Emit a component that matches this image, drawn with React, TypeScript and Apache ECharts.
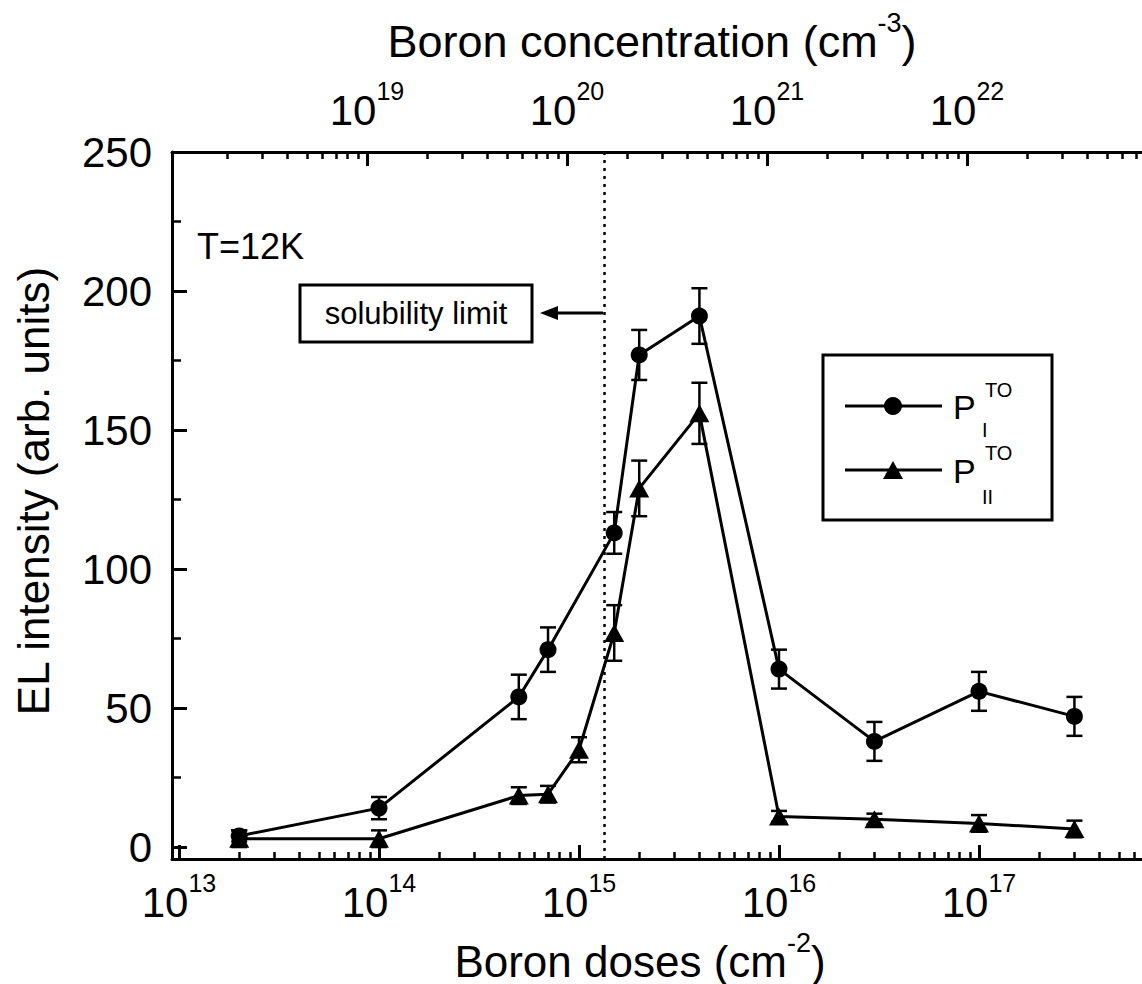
import React, { useEffect, useRef } from "react";
import * as echarts from "echarts";

const FONT = "'Liberation Sans', Arial, Helvetica, sans-serif";

// P_I^TO (circles)
const dosesI = [2e13, 1e14, 5e14, 7e14, 1.5e15, 2e15, 4e15, 1e16, 3e16, 1e17, 3e17];
const intensityI = [4, 14, 54, 71, 113, 177, 191, 64, 38, 56, 47];
const errorI = [2, 4, 8, 8, 7.5, 9, 10, 7, 7, 7, 7];

// P_II^TO (triangles)
const dosesII = [2e13, 1e14, 5e14, 7e14, 1e15, 1.5e15, 2e15, 4e15, 1e16, 3e16, 1e17, 3e17];
const intensityII = [3, 3, 18.5, 19, 35, 77, 129, 156, 11, 10, 8.5, 6.5];
const errorII = [3, 3, 3, 3, 4.5, 10, 10, 11, 2, 2, 3, 3];

const solubilityDose = 1.33e15;

const yTickValues = [0, 50, 100, 150, 200, 250];
const yMinorValues = [25, 75, 125, 175, 225];
const doseMajor = [1e13, 1e14, 1e15, 1e16, 1e17];
const concMajor = [1e19, 1e20, 1e21, 1e22];

const doseMinor: number[] = [];
for (let e = 12; e <= 17; e++) for (let k = 2; k <= 9; k++) doseMinor.push(k * Math.pow(10, e));
const concMinor: number[] = [];
for (let e = 17; e <= 22; e++) for (let k = 2; k <= 9; k++) concMinor.push(k * Math.pow(10, e));

const DOSE_MIN = Math.pow(10, 12.965);
const DOSE_MAX = Math.pow(10, 17.815);
const CONC_OFFSET = 5.06;
const CONC_MIN = Math.pow(10, 12.965 + CONC_OFFSET);
const CONC_MAX = Math.pow(10, 17.815 + CONC_OFFSET);

const powLabel = (v: number) => `{b|10}{s|${Math.round(Math.log10(v))}}`;
const powRich = {
  b: { fontSize: 42, lineHeight: 64, fontFamily: FONT, color: "#000" },
  s: { fontSize: 25, lineHeight: 25, fontFamily: FONT, color: "#000", verticalAlign: "top" },
};

function errorSeries(xs: number[], ys: number[], es: number[]) {
  return {
    type: "custom",
    xAxisIndex: 0,
    yAxisIndex: 0,
    silent: true,
    z: 2,
    encode: { x: 0, y: [1, 2] },
    data: xs.map((x, i) => [x, ys[i] - es[i], ys[i] + es[i]]),
    renderItem: (params: any, api: any) => {
      const x = api.value(0);
      const lo = api.value(1);
      const hi = api.value(2);
      const p1 = api.coord([x, hi]);
      const p2 = api.coord([x, lo]);
      const w = 8;
      const st = { stroke: "#000", lineWidth: 2.5 };
      return {
        type: "group",
        children: [
          { type: "line", shape: { x1: p1[0], y1: p1[1], x2: p2[0], y2: p2[1] }, style: st },
          { type: "line", shape: { x1: p1[0] - w, y1: p1[1], x2: p1[0] + w, y2: p1[1] }, style: st },
          { type: "line", shape: { x1: p2[0] - w, y1: p2[1], x2: p2[0] + w, y2: p2[1] }, style: st },
        ],
      };
    },
  };
}

const axisLineStyle = { color: "#000", width: 3 };

export default function App() {
  const ref = useRef<HTMLDivElement>(null);
  useEffect(() => {
    if (!ref.current) return;
    const chart = echarts.init(ref.current, undefined, { renderer: "svg" });
    const option: any = {
      animation: false,
      backgroundColor: "#fff",
      textStyle: { fontFamily: FONT },
      grid: { left: 172, top: 152, right: 0, bottom: 125, containLabel: false },
      xAxis: [
        {
          type: "log",
          position: "bottom",
          min: DOSE_MIN,
          max: DOSE_MAX,
          axisLine: { show: true, onZero: false, lineStyle: axisLineStyle },
          axisTick: { show: true, inside: true, length: 14, customValues: doseMajor, lineStyle: { color: "#000", width: 3 } },
          axisLabel: { show: true, customValues: doseMajor, formatter: powLabel, rich: powRich, margin: 11, color: "#000" },
          splitLine: { show: false },
          minorTick: { show: false },
        },
        {
          type: "log",
          position: "bottom",
          min: DOSE_MIN,
          max: DOSE_MAX,
          axisLine: { show: false, onZero: false },
          axisTick: { show: true, inside: true, length: 7, customValues: doseMinor, lineStyle: { color: "#000", width: 2.5 } },
          axisLabel: { show: false },
          splitLine: { show: false },
        },
        {
          type: "log",
          position: "top",
          min: CONC_MIN,
          max: CONC_MAX,
          axisLine: { show: true, onZero: false, lineStyle: axisLineStyle },
          axisTick: { show: true, inside: true, length: 14, customValues: concMajor, lineStyle: { color: "#000", width: 3 } },
          axisLabel: { show: true, customValues: concMajor, formatter: powLabel, rich: powRich, margin: 10, color: "#000" },
          splitLine: { show: false },
        },
        {
          type: "log",
          position: "top",
          min: CONC_MIN,
          max: CONC_MAX,
          axisLine: { show: false, onZero: false },
          axisTick: { show: true, inside: true, length: 7, customValues: concMinor, lineStyle: { color: "#000", width: 2.5 } },
          axisLabel: { show: false },
          splitLine: { show: false },
        },
      ],
      yAxis: [
        {
          type: "value",
          position: "left",
          min: -4.3,
          max: 250,
          axisLine: { show: true, onZero: false, lineStyle: axisLineStyle },
          axisTick: { show: true, inside: true, length: 15, customValues: yTickValues, lineStyle: { color: "#000", width: 3 } },
          axisLabel: { show: true, customValues: yTickValues, fontSize: 42, fontFamily: FONT, color: "#000", margin: 20 },
          splitLine: { show: false },
        },
        {
          type: "value",
          position: "left",
          min: -4.3,
          max: 250,
          axisLine: { show: false, onZero: false },
          axisTick: { show: true, inside: true, length: 9, customValues: yMinorValues, lineStyle: { color: "#000", width: 2.5 } },
          axisLabel: { show: false },
          splitLine: { show: false },
        },
      ],
      series: [
        errorSeries(dosesI, intensityI, errorI),
        errorSeries(dosesII, intensityII, errorII),
        {
          type: "line",
          name: "P_I^TO",
          xAxisIndex: 0,
          yAxisIndex: 0,
          data: dosesI.map((x, i) => [x, intensityI[i]]),
          symbol: "circle",
          symbolSize: 17,
          showAllSymbol: true,
          lineStyle: { color: "#000", width: 3 },
          itemStyle: { color: "#000" },
          z: 3,
          markLine: {
            silent: true,
            symbol: ["none", "none"],
            label: { show: false },
            lineStyle: { type: [3, 5], color: "#000", width: 2.5 },
            data: [{ xAxis: solubilityDose }],
          },
        },
        {
          type: "line",
          name: "P_II^TO",
          xAxisIndex: 0,
          yAxisIndex: 0,
          data: dosesII.map((x, i) => [x, intensityII[i]]),
          symbol: "triangle",
          symbolSize: [20, 18],
          showAllSymbol: true,
          lineStyle: { color: "#000", width: 3 },
          itemStyle: { color: "#000" },
          z: 3,
        },
      ],
      graphic: [
        // axis titles
        {
          type: "text",
          x: 652,
          y: 41,
          style: {
            text: "{t|Boron concentration (cm}{s|-3}{t|)}",
            align: "center",
            verticalAlign: "middle",
            rich: {
              t: { fontSize: 45, lineHeight: 64, fontFamily: FONT, fill: "#000" },
              s: { fontSize: 27, lineHeight: 27, fontFamily: FONT, fill: "#000", verticalAlign: "top" },
            },
          },
        },
        {
          type: "text",
          x: 640,
          y: 961,
          style: {
            text: "{t|Boron doses (cm}{s|-2}{t|)}",
            align: "center",
            verticalAlign: "middle",
            rich: {
              t: { fontSize: 44, lineHeight: 64, fontFamily: FONT, fill: "#000" },
              s: { fontSize: 27, lineHeight: 27, fontFamily: FONT, fill: "#000", verticalAlign: "top" },
            },
          },
        },
        {
          type: "text",
          x: 33,
          y: 491,
          rotation: Math.PI / 2,
          style: {
            text: "EL intensity (arb. units)",
            fontSize: 44,
            fontFamily: FONT,
            fill: "#000",
            align: "center",
            verticalAlign: "middle",
          },
        },
        {
          type: "text",
          x: 197,
          y: 246,
          style: { text: "T=12K", fontSize: 36, fontFamily: FONT, fill: "#000", align: "left", verticalAlign: "middle" },
        },
        // solubility limit annotation
        {
          type: "rect",
          shape: { x: 300, y: 285, width: 232, height: 57 },
          style: { fill: "#fff", stroke: "#000", lineWidth: 3 },
          z: 10,
        },
        {
          type: "text",
          x: 416,
          y: 313,
          z: 11,
          style: { text: "solubility limit", fontSize: 31, fontFamily: FONT, fill: "#000", align: "center", verticalAlign: "middle" },
        },
        {
          type: "line",
          shape: { x1: 552, y1: 313, x2: 603, y2: 313 },
          style: { stroke: "#000", lineWidth: 3 },
          z: 10,
        },
        {
          type: "polygon",
          shape: { points: [[540, 313], [558, 306], [558, 320]] },
          style: { fill: "#000" },
          z: 10,
        },
        // legend
        {
          type: "rect",
          shape: { x: 823, y: 355, width: 229, height: 165 },
          style: { fill: "#fff", stroke: "#000", lineWidth: 3 },
          z: 10,
        },
        {
          type: "line",
          shape: { x1: 845, y1: 406, x2: 942, y2: 406 },
          style: { stroke: "#000", lineWidth: 3 },
          z: 11,
        },
        {
          type: "circle",
          shape: { cx: 893, cy: 406, r: 9 },
          style: { fill: "#000" },
          z: 12,
        },
        {
          type: "line",
          shape: { x1: 845, y1: 470, x2: 942, y2: 470 },
          style: { stroke: "#000", lineWidth: 3 },
          z: 11,
        },
        {
          type: "polygon",
          shape: { points: [[883, 479], [903, 479], [893, 461]] },
          style: { fill: "#000" },
          z: 12,
        },
        {
          type: "text", x: 953, y: 407, z: 12,
          style: { text: "P", fontSize: 34, fontFamily: FONT, fill: "#000", align: "left", verticalAlign: "middle" },
        },
        {
          type: "text", x: 982, y: 430, z: 12,
          style: { text: "I", fontSize: 20, fontFamily: FONT, fill: "#000", align: "left", verticalAlign: "middle" },
        },
        {
          type: "text", x: 985, y: 390, z: 12,
          style: { text: "TO", fontSize: 20, fontFamily: FONT, fill: "#000", align: "left", verticalAlign: "middle" },
        },
        {
          type: "text", x: 953, y: 471, z: 12,
          style: { text: "P", fontSize: 34, fontFamily: FONT, fill: "#000", align: "left", verticalAlign: "middle" },
        },
        {
          type: "text", x: 982, y: 497, z: 12,
          style: { text: "II", fontSize: 20, fontFamily: FONT, fill: "#000", align: "left", verticalAlign: "middle" },
        },
        {
          type: "text", x: 985, y: 453, z: 12,
          style: { text: "TO", fontSize: 20, fontFamily: FONT, fill: "#000", align: "left", verticalAlign: "middle" },
        },
      ],
    };
    chart.setOption(option);
    return () => chart.dispose();
  }, []);
  return (
    <div
      ref={ref}
      style={{ position: "fixed", left: 0, top: 0, width: 1142, height: 984, background: "#fff" }}
    />
  );
}
